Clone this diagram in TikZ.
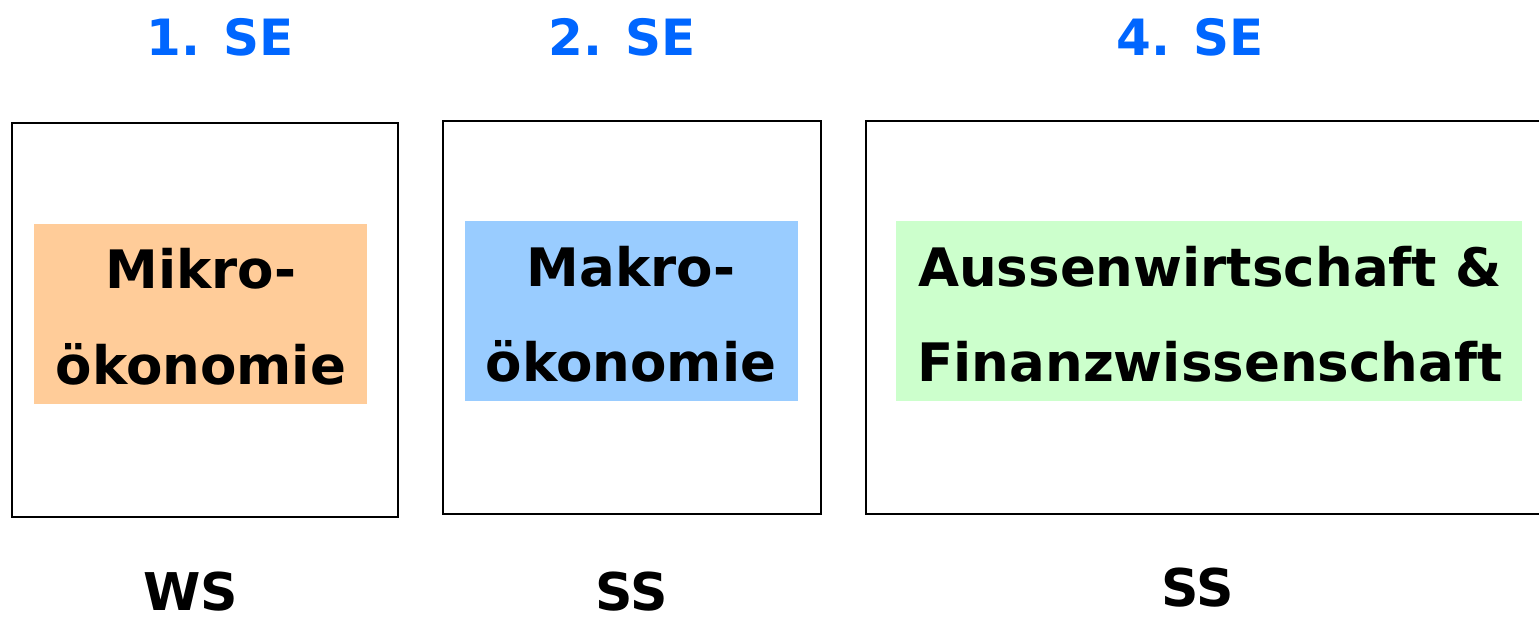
\documentclass[tikz,border=0pt]{standalone}
\usepackage{fontspec}
\setmainfont{DejaVu Sans}
\definecolor{seblue}{HTML}{0066FF}
\definecolor{mikro}{HTML}{FFCC99}
\definecolor{makro}{HTML}{99CCFF}
\definecolor{aussen}{HTML}{CCFFCC}
\begin{document}
\begin{tikzpicture}[x=1pt,y=-1pt,
  frame/.style={draw=black,line width=2.2pt},
  title/.style={anchor=base,inner sep=0pt,text=seblue,font=\bfseries\fontsize{50}{58}\selectfont},
  sem/.style={anchor=base,inner sep=0pt,font=\bfseries\fontsize{52}{60}\selectfont},
  lbl/.style={anchor=base,inner sep=0pt,font=\bfseries\fontsize{53}{64}\selectfont}]
\useasboundingbox (0,0) rectangle (1539,619);
\clip (0,0) rectangle (1539,619);
% frames
\draw[frame] (12,123) rectangle (398,517);
\draw[frame] (443,121) rectangle (821,514);
\draw[frame] (866,121) rectangle (1560,514);
% fills
\fill[mikro] (34,224) rectangle (367,404);
\fill[makro] (465,221) rectangle (798,401);
\fill[aussen] (896,221) rectangle (1522,401);
% titles
\node[title] (t1) at (220,55) {1. SE};
\node[title] (t2) at (622,55) {2. SE};
\node[title] (t4) at (1190,55) {4. SE};
% labels
\node[lbl] (m1) at (201,288) {Mikro-};
\node[lbl] (m2) at (201,384) {ökonomie};
\node[lbl] (k1) at (631,286) {Makro-};
\node[lbl] (k2) at (631,381) {ökonomie};
\node[lbl] (a1) at (1210,286) {Aussenwirtschaft \&};
\node[lbl] (a2) at (1210,381) {Finanzwissenschaft};
% semesters
\node[sem] (s1) at (191,610) {WS};
\node[sem] (s2) at (632,610) {SS};
\node[sem] (s4) at (1198,606) {SS};
\end{tikzpicture}
\end{document}
